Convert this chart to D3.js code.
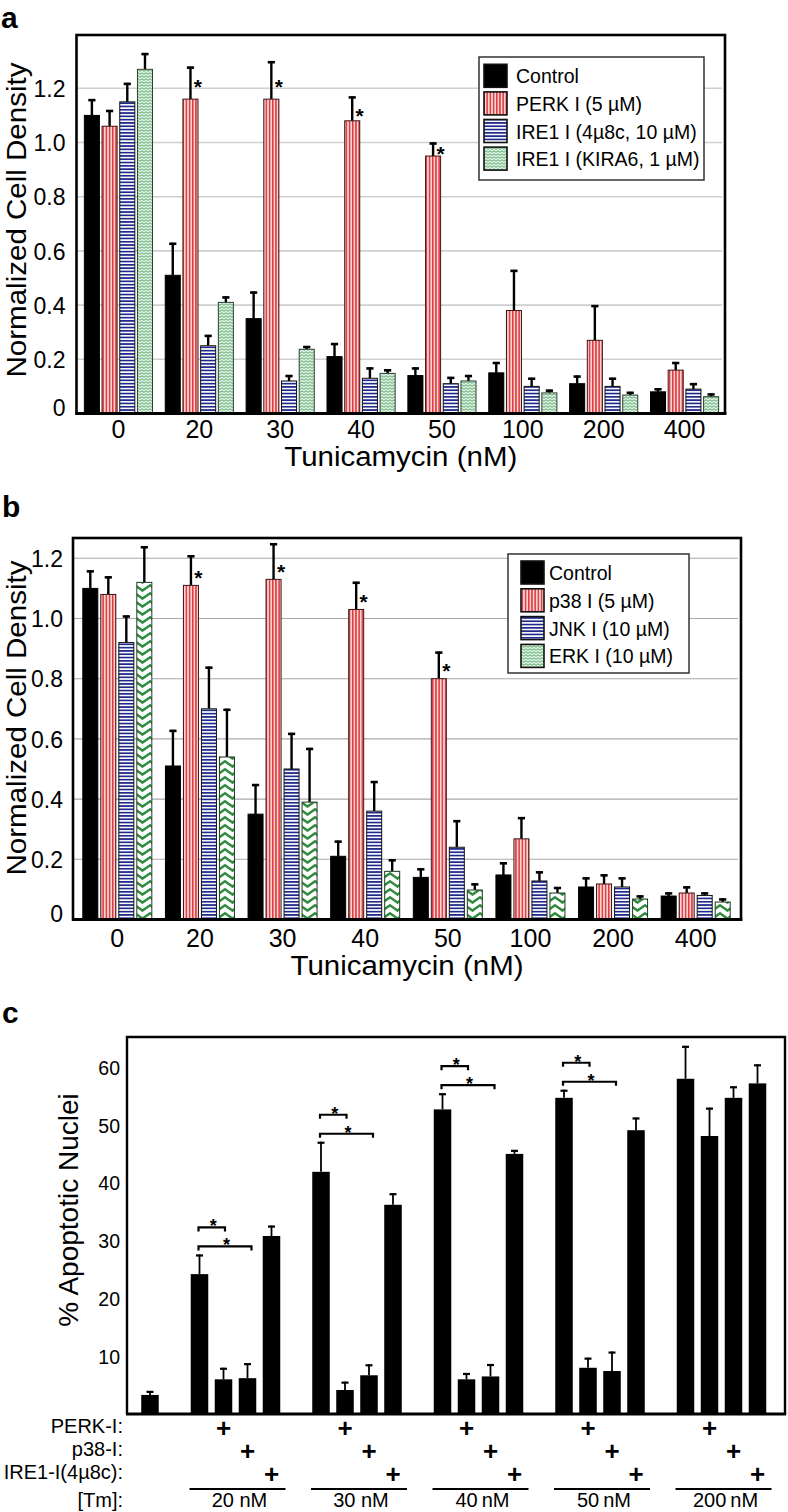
<!DOCTYPE html>
<html><head><meta charset="utf-8">
<script src="https://cdn.jsdelivr.net/npm/d3@7"></script>
<style>
body{margin:0;background:#fff}
text{font-family:"Liberation Sans",Arial,Helvetica,sans-serif}
</style>
</head><body>
<svg id="fig" width="788" height="1512"></svg>
<script>
// ---------------- DATA ----------------
const tmDoses = ["0","20","30","40","50","100","200","400"];
const yTicksAB = [0,0.2,0.4,0.6,0.8,1.0,1.2];
const yTickLabelsAB = ["0","0.2","0.4","0.6","0.8","1.0","1.2"];

// panel a
const seriesA = ["Control","PERK I (5 \u00b5M)","IRE1 I (4\u00b58c, 10 \u00b5M)","IRE1 I (KIRA6, 1 \u00b5M)"];
const aControl    = [1.10,0.51,0.35,0.21,0.14,0.15,0.11,0.08];
const aControlErr = [0.06,0.12,0.10,0.05,0.03,0.04,0.03,0.013];
const aPERK       = [1.06,1.16,1.16,1.08,0.95,0.38,0.27,0.16];
const aPERKErr    = [0.06,0.12,0.14,0.09,0.05,0.15,0.13,0.03];
const aIRE        = [1.15,0.25,0.12,0.13,0.11,0.10,0.10,0.09];
const aIREErr     = [0.07,0.04,0.022,0.04,0.025,0.032,0.032,0.022];
const aKIRA       = [1.27,0.41,0.237,0.148,0.12,0.076,0.068,0.062];
const aKIRAErr    = [0.06,0.022,0.012,0.015,0.022,0.012,0.012,0.012];
const aStars      = [null,1.22,1.22,1.115,0.975,null,null,null]; // on PERK bars

// panel b
const seriesB = ["Control","p38 I  (5 \u00b5M)","JNK I (10 \u00b5M)","ERK I (10 \u00b5M)"];
const bControl    = [1.10,0.51,0.35,0.21,0.14,0.148,0.108,0.078];
const bControlErr = [0.06,0.12,0.10,0.052,0.03,0.042,0.032,0.012];
const bP38        = [1.08,1.11,1.13,1.03,0.80,0.268,0.118,0.088];
const bP38Err     = [0.06,0.10,0.12,0.092,0.09,0.072,0.032,0.022];
const bJNK        = [0.92,0.70,0.50,0.36,0.24,0.128,0.108,0.08];
const bJNKErr     = [0.09,0.14,0.12,0.10,0.09,0.032,0.032,0.01];
const bERK        = [1.12,0.54,0.39,0.16,0.098,0.088,0.068,0.058];
const bERKErr     = [0.12,0.16,0.18,0.04,0.022,0.02,0.012,0.012];
const bStars      = [null,1.15,1.17,1.07,0.84,null,null,null]; // on p38 bars

// panel c
const cGroups = ["20 nM","30 nM","40\u2009nM","50\u2009nM","200\u2009nM"];
const cConditions = ["Tm","PERK-I","p38-I","IRE1-I"];
const cUntreated = 3.3, cUntreatedErr = 0.7;
const cTm      = [24.2,41.9,52.7,54.7,58.0];
const cTmErr   = [3.4,5.2,2.8,1.4,5.7];
const cPERK    = [6.0,4.15,6.0,8.0,48.1];
const cPERKErr = [2.0,1.45,1.1,1.75,4.9];
const cP38     = [6.2,6.7,6.5,7.44,54.7];
const cP38Err  = [2.6,1.9,2.15,3.36,2.0];
const cIRE1    = [30.8,36.2,45.0,49.1,57.2];
const cIRE1Err = [1.8,2.0,0.7,2.2,3.3];
const cYTicks = [10,20,30,40,50,60];
const cBrackets = [ // significance brackets from Tm-only bar
  {g:"20 nM", to:"PERK-I", level:"short"},{g:"20 nM", to:"p38-I", level:"long"},
  {g:"30 nM", to:"PERK-I", level:"short"},{g:"30 nM", to:"p38-I", level:"long"},
  {g:"40\u2009nM", to:"PERK-I", level:"short"},{g:"40\u2009nM", to:"p38-I", level:"long"},
  {g:"50\u2009nM", to:"PERK-I", level:"short"},{g:"50\u2009nM", to:"p38-I", level:"long"}
];
const tableRows = ["PERK-I:","p38-I:","IRE1-I(4\u00b58c):","[Tm]:"];

// ---------------- DRAW ----------------
const FONT = '"Liberation Sans",Arial,Helvetica,sans-serif';
const svg = d3.select("#fig");
svg.append("rect").attr("width",788).attr("height",1512).attr("fill","#fff");

const defs = svg.append("defs");
const pr = defs.append("pattern").attr("id","redV").attr("patternUnits","userSpaceOnUse").attr("width",3.2).attr("height",10);
pr.append("rect").attr("width",3.2).attr("height",10).attr("fill","#fbd2d2");
pr.append("rect").attr("width",1.5).attr("height",10).attr("fill","#dd3a3e");
const pb = defs.append("pattern").attr("id","blueH").attr("patternUnits","userSpaceOnUse").attr("width",10).attr("height",3.3);
pb.append("rect").attr("width",10).attr("height",3.3).attr("fill","#ffffff");
pb.append("rect").attr("width",10).attr("height",1.7).attr("fill","#202a8a");
const pg = defs.append("pattern").attr("id","greenZ").attr("patternUnits","userSpaceOnUse").attr("width",4).attr("height",3);
pg.append("rect").attr("width",4).attr("height",3).attr("fill","#e4f3e6");
pg.append("path").attr("d","M0,2.4 L2,0.7 L4,2.4").attr("fill","none").attr("stroke","#3a9a55").attr("stroke-width",0.9);
const pc = defs.append("pattern").attr("id","greenC").attr("patternUnits","userSpaceOnUse").attr("width",15).attr("height",8);
pc.append("rect").attr("width",15).attr("height",8).attr("fill","#fff");
pc.append("path").attr("d","M-1,0.6 L7.5,6.6 L16,0.6").attr("fill","none").attr("stroke","#2e8b3c").attr("stroke-width",2.4);

function panelLetter(t,x,y){
  svg.append("text").attr("x",x).attr("y",y).attr("font-size",30).attr("font-weight","bold").text(t);
}

function drawBarPanel(o){
  const g = svg.append("g");
  const y = d3.scaleLinear().domain([0,o.yMax]).range([o.zero, o.zero - o.yMax*o.pxPerUnit]);
  const x0 = d3.scaleBand().domain(tmDoses).range(o.bandRange);
  const x1 = d3.scaleBand().domain(o.series).range([0,x0.bandwidth()]).paddingInner(o.pi).paddingOuter(o.po);
  const F = o.frame;
  // gridlines
  g.selectAll("line.grid").data(yTicksAB.filter(t=>t>0)).join("line").attr("class","grid")
    .attr("x1",F.left+1).attr("x2",F.right-3).attr("y1",d=>y(d)).attr("y2",d=>y(d))
    .attr("stroke",o.gridColor).attr("stroke-width",o.gridWidth);
  // bars
  const rows=[];
  o.series.forEach((s,si)=>tmDoses.forEach((d,di)=>rows.push({s,si,d,di,v:o.values[si][di],e:o.errs[si][di]})));
  const bw = x1.bandwidth();
  const eb = g.append("g").attr("stroke","#000").attr("stroke-width",2.4);
  rows.forEach(r=>{
    const cx = x0(r.d)+x1(r.s)+bw/2;
    eb.append("line").attr("x1",cx).attr("x2",cx).attr("y1",y(r.v)).attr("y2",y(r.v+r.e));
    eb.append("line").attr("x1",cx-3.6).attr("x2",cx+3.6).attr("y1",y(r.v+r.e)+1).attr("y2",y(r.v+r.e)+1).attr("stroke-width",2.6);
  });
  g.selectAll("rect.bar").data(rows).join("rect").attr("class","bar")
    .attr("x",r=>x0(r.d)+x1(r.s)).attr("width",bw)
    .attr("y",r=>y(r.v)).attr("height",r=>y(0)-y(r.v))
    .attr("fill",r=>o.barFills[r.si]).attr("stroke",r=>o.barStrokes[r.si]).attr("stroke-width",1);
  // stars
  g.selectAll("text.star").data(o.stars.map((v,i)=>({v,d:tmDoses[i]})).filter(s=>s.v!==null)).join("text")
    .attr("class","star").attr("text-anchor","middle").attr("font-size",21).attr("font-weight","bold")
    .attr("x",s=>x0(s.d)+x1(o.series[o.starSeries])+bw/2+7.5).attr("y",s=>y(s.v)+11.5).text("*");
  // frame
  g.append("rect").attr("x",F.left).attr("y",F.top).attr("width",F.right-F.left).attr("height",o.zero-F.top)
    .attr("fill","none").attr("stroke","#000").attr("stroke-width",2.6);
  g.append("line").attr("x1",F.left-1).attr("x2",F.right+1.3).attr("y1",o.zero).attr("y2",o.zero).attr("stroke","#000").attr("stroke-width",3.2);
  // y axis labels
  const ya = g.append("g").attr("transform",`translate(${F.left},0)`)
    .call(d3.axisLeft(y).tickValues(yTicksAB).tickFormat((d,i)=>yTickLabelsAB[i]).tickSize(0).tickPadding(o.yPad));
  ya.select(".domain").remove();
  ya.selectAll("text").attr("font-family",FONT).attr("font-size",23).attr("fill","#000").attr("dy","0.36em")
    .attr("y",d=>d===0?-6:0);
  // x axis labels
  const xa = g.append("g").attr("transform",`translate(0,${o.zero})`)
    .call(d3.axisBottom(x0).tickSize(0));
  xa.select(".domain").remove();
  xa.selectAll("text").attr("font-family",FONT).attr("font-size",25).attr("fill","#000").attr("dy",null).attr("y",o.xLabelBase);
  // titles
  g.append("text").attr("x",(F.left+F.right)/2).attr("y",o.xTitleY).attr("text-anchor","middle")
    .attr("font-size",27).attr("textLength",233).attr("lengthAdjust","spacingAndGlyphs").text("Tunicamycin (nM)");
  g.append("text").attr("transform",`translate(${o.yTitleX},${o.yTitleY}) rotate(-90)`).attr("text-anchor","middle")
    .attr("font-size",28).attr("textLength",315).attr("lengthAdjust","spacingAndGlyphs").text("Normalized Cell Density");
  // legend
  const L = o.legend;
  g.append("rect").attr("x",L.x).attr("y",L.y).attr("width",L.w).attr("height",L.h).attr("fill","#fff").attr("stroke","#333").attr("stroke-width",1.5);
  o.series.forEach((s,i)=>{
    const ty = L.sy + i*L.step;
    g.append("rect").attr("x",L.sx).attr("y",ty).attr("width",23).attr("height",23)
      .attr("fill",o.legendFills[i]).attr("stroke","#111").attr("stroke-width",1.6);
    g.append("text").attr("x",L.tx).attr("y",ty+19).attr("font-size",19.5).text(s);
  });
}

drawBarPanel({
  series:seriesA, values:[aControl,aPERK,aIRE,aKIRA], errs:[aControlErr,aPERKErr,aIREErr,aKIRAErr],
  yMax:1.4, zero:413.5, pxPerUnit:271, bandRange:[78,725], pi:0.15, po:0.36,
  frame:{left:76.5,right:725,top:35}, gridColor:"#cfcfcf", gridWidth:1.6, yPad:11,
  barFills:["#000","url(#redV)","url(#blueH)","url(#greenZ)"], barStrokes:["#000","#3a1515","#111","#2f3f33"],
  legendFills:["#000","url(#redV)","url(#blueH)","url(#greenZ)"],
  stars:aStars, starSeries:1, xLabelBase:24.5, xTitleY:466, yTitleX:26, yTitleY:220,
  legend:{x:479,y:57,w:225,h:123,sx:484,sy:64.3,step:27.6,tx:516}
});
drawBarPanel({
  series:seriesB, values:[bControl,bP38,bJNK,bERK], errs:[bControlErr,bP38Err,bJNKErr,bERKErr],
  yMax:1.27, zero:919.5, pxPerUnit:301, bandRange:[76,737], pi:0.167, po:0.378,
  frame:{left:73,right:741,top:538}, gridColor:"#a9a9a9", gridWidth:1.1, yPad:10,
  barFills:["#000","url(#redV)","url(#blueH)","url(#greenC)"], barStrokes:["#000","#3a1515","#111","#1f3a24"],
  legendFills:["#000","url(#redV)","url(#blueH)","url(#greenZ)"],
  stars:bStars, starSeries:1, xLabelBase:27.5, xTitleY:975, yTitleX:26, yTitleY:718,
  legend:{x:508,y:554,w:181,h:119,sx:521,sy:561,step:27.8,tx:549}
});

panelLetter("a",1,28);
panelLetter("b",2,517);
panelLetter("c",2,1023);

// ---------- panel c ----------
(function(){
  const g = svg.append("g");
  const zero = 1414, top = 1037, left = 127, right = 785;
  const y = d3.scaleLinear().domain([0,65.2]).range([zero, zero-65.2*5.78]);
  const outer = d3.scaleBand().domain(["untreated",...cGroups]).range([66,769.5]).paddingInner(0.21);
  const inner = d3.scaleBand().domain(cConditions).range([0,outer.bandwidth()]).paddingInner(0.27).paddingOuter(0.135);
  const bw = inner.bandwidth();
  const vals = [cTm,cPERK,cP38,cIRE1], errs=[cTmErr,cPERKErr,cP38Err,cIRE1Err];
  const bars = [];
  // untreated control (no Tm) drawn in the last slot of the leading group
  bars.push({g:"untreated", c:cConditions[3], v:cUntreated, e:cUntreatedErr});
  cGroups.forEach((gr,gi)=>cConditions.forEach((c,ci)=>bars.push({g:gr,c,v:vals[ci][gi],e:errs[ci][gi]})));
  const cxOf = b=>outer(b.g)+inner(b.c)+bw/2;
  const eb = g.append("g").attr("stroke","#000").attr("stroke-width",1.8);
  bars.forEach(b=>{
    const cx=cxOf(b);
    eb.append("line").attr("x1",cx).attr("x2",cx).attr("y1",y(b.v)).attr("y2",y(b.v+b.e));
    eb.append("line").attr("x1",cx-3.5).attr("x2",cx+3.5).attr("y1",y(b.v+b.e)+1).attr("y2",y(b.v+b.e)+1).attr("stroke-width",2.2);
  });
  g.selectAll("rect.cbar").data(bars).join("rect").attr("class","cbar")
    .attr("x",b=>outer(b.g)+inner(b.c)).attr("width",bw).attr("y",b=>y(b.v)).attr("height",b=>zero-y(b.v)).attr("fill","#000");
  // brackets
  cBrackets.forEach(br=>{
    const gi = cGroups.indexOf(br.g);
    const errTop = y(cTm[gi]+cTmErr[gi]);
    const by = errTop - (br.level==="short"?27:8);
    const xa = outer(br.g)+inner("Tm")+bw/2 - 1;
    const xb = outer(br.g)+inner(br.to)+bw/2 + (br.level==="short"?1.5:4);
    g.append("path").attr("d",`M${xa},${by+4}V${by}H${xb}V${by+4}`).attr("fill","none").attr("stroke","#000").attr("stroke-width",2.2);
    g.append("text").attr("x",(xa+xb)/2+1.5).attr("y",by+5).attr("text-anchor","middle")
      .attr("font-size",18).attr("font-weight","bold").text("*");
  });
  // frame
  g.append("path").attr("d",`M${left},${zero}V${top}H${right}V${zero}`).attr("fill","none").attr("stroke","#000").attr("stroke-width",2.4);
  g.append("line").attr("x1",left-1).attr("x2",right+1.2).attr("y1",zero).attr("y2",zero).attr("stroke","#000").attr("stroke-width",3.2);
  // y axis
  const ya = g.append("g").attr("transform",`translate(${left},0)`).call(d3.axisLeft(y).tickValues(cYTicks).tickSize(0).tickPadding(7));
  ya.select(".domain").remove();
  ya.selectAll("text").attr("font-family",FONT).attr("font-size",19.5).attr("fill","#000").attr("dy","0.36em");
  g.append("text").attr("transform","translate(78,1210) rotate(-90)").attr("text-anchor","middle")
    .attr("font-size",28).text("% Apoptotic Nuclei");
  // table
  const rowBase = [1433,1456,1479,1507];
  tableRows.forEach((t,i)=>{
    g.append("text").attr("x",123).attr("y",rowBase[i]).attr("text-anchor","end").attr("font-size",20).text(t);
  });
  cGroups.forEach(gr=>{
    [1,2,3].forEach((ci,ri)=>{
      g.append("text").attr("x",outer(gr)+inner(cConditions[ci])+bw/2).attr("y",rowBase[ri]+4)
        .attr("text-anchor","middle").attr("font-size",26).attr("font-weight","bold").text("+");
    });
    g.append("line").attr("x1",outer(gr)+2).attr("x2",outer(gr)+outer.bandwidth()+2)
      .attr("y1",1489).attr("y2",1489).attr("stroke","#000").attr("stroke-width",2.2);
    g.append("text").attr("x",outer(gr)+outer.bandwidth()/2+4).attr("y",1507).attr("text-anchor","middle")
      .attr("font-size",20).text(gr);
  });
})();
</script>
</body></html>
